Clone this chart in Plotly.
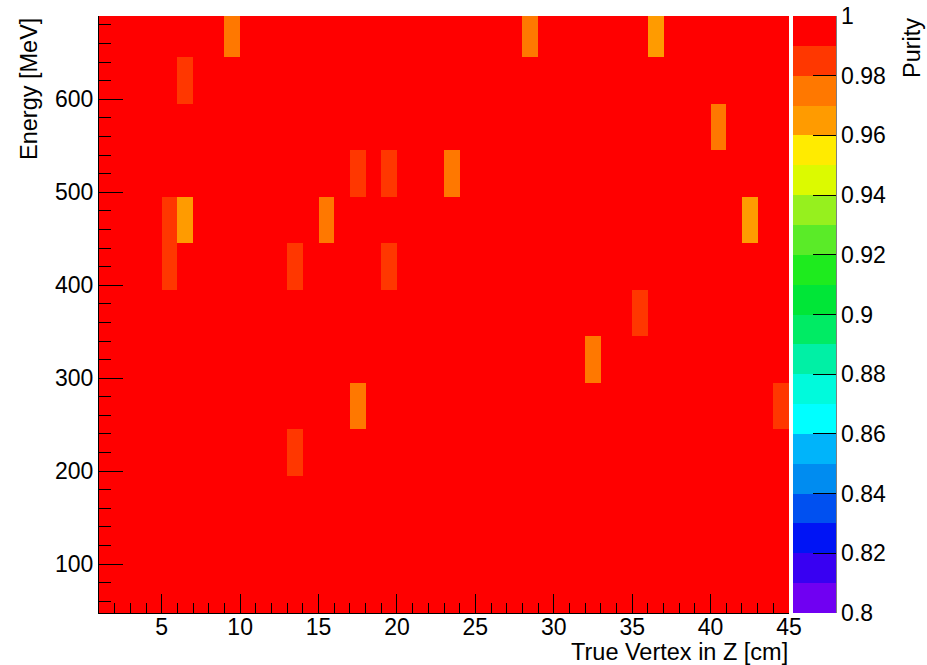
import plotly.graph_objects as go

# Bin edges of the 2D histogram
z_edges = [1, 2, 3, 4, 5, 6, 7, 8, 9, 10, 11, 12, 13, 14, 15, 16, 17, 18, 19, 20,
           21, 22, 23, 24, 25, 26, 27, 28, 29, 30, 31, 32, 33, 34, 35, 36, 37, 38,
           39, 40, 41, 42, 43, 44, 45]                      # True vertex Z [cm]
e_edges = [45, 95, 145, 195, 245, 295, 345, 395, 445, 495, 545, 595, 645, 695]  # Energy [MeV]

# Purity of the bins that fall below 0.99 (all other bins are at 1)
cell_z = [9, 28, 36, 6, 40, 17, 19, 23, 5, 6, 15, 42, 5, 13, 19, 35, 32, 17, 44, 13]
cell_e = [645, 645, 645, 595, 545, 495, 495, 495, 445, 445, 445, 445, 395, 395, 395,
          345, 295, 245, 245, 195]
cell_purity = [0.975, 0.975, 0.966, 0.985, 0.975, 0.985, 0.985, 0.975, 0.985, 0.968,
               0.975, 0.965, 0.985, 0.985, 0.985, 0.985, 0.975, 0.975, 0.985, 0.985]

# Colorbar ticks
cbar_ticks = [0.8, 0.82, 0.84, 0.86, 0.88, 0.9, 0.92, 0.94, 0.96, 0.98, 1.0]
cbar_labels = ["0.8", "0.82", "0.84", "0.86", "0.88", "0.9", "0.92", "0.94", "0.96", "0.98", "1"]

# 20-step rainbow palette, from 0.80 (bottom) to 1.00 (top)
palette = [
    "rgb(112,0,242)", "rgb(56,0,242)", "rgb(0,20,245)", "rgb(0,80,240)",
    "rgb(0,140,240)", "rgb(0,180,250)", "rgb(0,255,255)", "rgb(0,250,220)",
    "rgb(0,240,165)", "rgb(0,235,100)", "rgb(0,230,55)", "rgb(30,235,30)",
    "rgb(90,235,40)", "rgb(150,240,30)", "rgb(220,250,0)", "rgb(255,235,0)",
    "rgb(255,155,0)", "rgb(255,120,0)", "rgb(255,55,0)", "rgb(255,0,0)",
]

zmin, zmax = 0.8, 1.0

# Assemble the purity matrix (rows = energy bins, columns = vertex bins)
n_x = len(z_edges) - 1
n_y = len(e_edges) - 1
purity = [[1.0] * n_x for _ in range(n_y)]
for zl, el, p in zip(cell_z, cell_e, cell_purity):
    purity[e_edges.index(el)][z_edges.index(zl)] = p

# Stepped colorscale
n = len(palette)
colorscale = []
for i, c in enumerate(palette):
    colorscale.append([i / n, c])
    colorscale.append([(i + 1) / n, c])

FONT = "Liberation Sans, Arial, Helvetica, sans-serif"

W, H = 927, 665
L, R, T, B = 99, 138, 16, 52
plot_w = W - L - R
plot_h = H - T - B

label_font = dict(family=FONT, size=23, color="black")
title_font = dict(family=FONT, size=23.5, color="black")

fig = go.Figure(
    go.Heatmap(
        x=z_edges,
        y=e_edges,
        z=purity,
        zmin=zmin,
        zmax=zmax,
        colorscale=colorscale,
        hoverinfo="skip",
        colorbar=dict(
            x=(793 - L) / plot_w,
            xanchor="left",
            y=0.5,
            yanchor="middle",
            len=1,
            lenmode="fraction",
            thickness=43,
            thicknessmode="pixels",
            xpad=0,
            ypad=0,
            outlinewidth=0,
            tickmode="array",
            tickvals=cbar_ticks,
            ticktext=cbar_labels,
            ticks="inside",
            ticklen=23,
            tickwidth=1,
            tickcolor="black",
            tickfont=label_font,
        ),
    )
)

fig.update_xaxes(
    range=[1, 45],
    tickmode="linear",
    tick0=0,
    dtick=5,
    ticks="inside",
    ticklen=19,
    tickwidth=1,
    tickcolor="black",
    minor=dict(dtick=1, ticks="inside", ticklen=10, tickwidth=1, tickcolor="black"),
    showline=True,
    linecolor="black",
    linewidth=1,
    showgrid=False,
    zeroline=False,
    tickfont=label_font,
    ticklabelstandoff=-7,
)
fig.update_yaxes(
    range=[47.5, 689.5],
    tickmode="linear",
    tick0=0,
    dtick=100,
    ticks="inside",
    ticklen=24,
    tickwidth=1,
    tickcolor="black",
    minor=dict(dtick=20, ticks="inside", ticklen=12, tickwidth=1, tickcolor="black"),
    showline=True,
    linecolor="black",
    linewidth=1,
    showgrid=False,
    zeroline=False,
    tickfont=label_font,
)

# Axis line along the right side of the colour scale
fig.add_shape(
    type="line", xref="paper", yref="paper",
    x0=(836 - L) / plot_w, x1=(836 - L) / plot_w, y0=0, y1=1,
    line=dict(color="black", width=1),
)

fig.add_annotation(
    text="True Vertex in Z [cm]", xref="paper", yref="paper",
    x=1, xanchor="right", y=(613 - 652) / plot_h, yanchor="middle",
    showarrow=False, font=title_font, borderpad=0,
)
fig.add_annotation(
    text="Energy [MeV]", xref="paper", yref="paper",
    x=(29 - L) / plot_w, xanchor="center", y=1.0, yanchor="top",
    textangle=-90, showarrow=False, font=title_font,
)
fig.add_annotation(
    text="Purity", xref="paper", yref="paper",
    x=(912 - L) / plot_w, xanchor="center", y=1.0, yanchor="top",
    textangle=-90, showarrow=False, font=title_font,
)

fig.update_layout(
    width=W,
    height=H,
    margin=dict(l=L, r=R, t=T, b=B),
    paper_bgcolor="white",
    plot_bgcolor="white",
    showlegend=False,
)

fig.write_html("out.html")
